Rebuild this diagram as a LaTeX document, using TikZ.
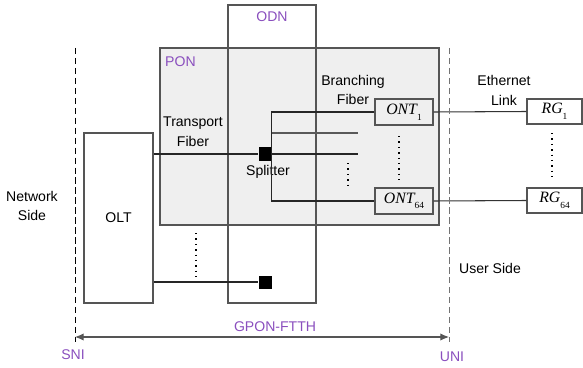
\documentclass[tikz,border=0pt]{standalone}
\usepackage{fontspec}
\setmainfont{Liberation Sans}
\newfontfamily\devfont{Liberation Serif}
\usetikzlibrary{arrows.meta,positioning,calc}
\definecolor{lbl}{HTML}{8A4FBE}
\definecolor{boxgray}{HTML}{555555}
\definecolor{ponfill}{HTML}{EFEFEF}
\newcommand{\dev}[2]{{\devfont\fontsize{13.5}{14}\selectfont\itshape #1}\raisebox{-0.75ex}{\devfont\fontsize{8}{8}\selectfont #2}}

\begin{document}
\begin{tikzpicture}[x=0.03cm,y=-0.03cm,
  every node/.style={font=\fontsize{12}{17}\selectfont,inner sep=0pt},
  bx/.style={draw=boxgray,line width=0.9pt,inner sep=0pt},
  devbox/.style={draw=boxgray,line width=0.9pt,inner sep=0pt,minimum width=1.74cm,minimum height=0.78cm},
  sp/.style={fill=black,minimum size=0.39cm,inner sep=0pt},
  fib/.style={line width=1.2pt,draw=black!85},
  eth/.style={line width=0.9pt,draw=black!80},
  dots/.style={line width=1.3pt,dash pattern=on 1.2pt off 3.4pt},
  bound/.style={line width=0.8pt,dash pattern=on 5.5pt off 3pt},
  ar/.style={{Latex[length=2.6mm,width=2.2mm]}-{Latex[length=2.6mm,width=2.2mm]},line width=0.9pt,draw=boxgray}]
\useasboundingbox (0,0) rectangle (583,368);
\node[bx,fill=ponfill,minimum width=8.37cm,minimum height=5.31cm] (pon) at (299.5,136.5) {};
\node[bx,minimum width=2.64cm,minimum height=8.94cm] (odn) at (272,154) {};
\node[bx,minimum width=2.07cm,minimum height=5.1cm] (olt) at (118.5,218) {OLT};
\node[text=lbl] (odnlbl) at (272,17) {ODN};
\node[text=lbl,anchor=west] (ponlbl) at (165,62) {PON};
\node[align=center] (tfib) at (193,132) {Transport\\Fiber};
\node[align=center] (bfib) at (353,90) {Branching\\Fiber};
\node[align=center] (elink) at (504,90) {Ethernet\\Link};
\node[align=center] (netside) at (32,206) {Network\\Side};
\node (userside) at (490,268) {User Side};
\node[sp] (sp1) at (265,154) {};
\node[sp] (sp2) at (265,282) {};
\node (splbl) at (268,172) {Splitter};
\node[devbox] (ont1) at (404,112) {\dev{ONT}{1}};
\node[devbox] (ont64) at (404,201) {\dev{ONT}{64}};
\node[devbox,minimum width=1.65cm,minimum height=0.75cm] (rg1) at (554.5,111.5) {\dev{RG}{1}};
\node[devbox,minimum width=1.65cm,minimum height=0.75cm] (rg64) at (554.5,200.5) {\dev{RG}{64}};
\coordinate (b2) at (358,133);
\coordinate (b3) at (358,154);
\draw[fib] (olt.east |- sp1) -- (sp1);
\draw[fib] (olt.east |- sp2) -- (sp2);
\draw[fib] (ont1.west) -- (ont1.west -| sp1.east) -- (ont64.west -| sp1.east) -- (ont64.west);
\draw[fib,draw=black!65] (sp1.east |- b2) -- (b2);
\draw[fib] (sp1.east) -- (b3);
\draw[eth] (ont1.east) -- (rg1.west);
\draw[eth] (ont64.east) -- (rg64.west);
\draw[dots] (348,163) -- (348,186);
\draw[dots] (399,136) -- (399,180);
\draw[dots] (552,133) -- (552,177);
\draw[dots] (196,233) -- (196,277);
\coordinate (sni) at (75,337);
\coordinate (uni) at (449,337);
\draw[bound] (75,48) -- (75,342);
\draw[bound,draw=black!55] (449,48) -- (449,342);
\draw[ar] (sni) -- (uni);
\node[text=lbl] (gpon) at (275,327) {GPON-FTTH};
\node[text=lbl] (snilbl) at (73,355) {SNI};
\node[text=lbl] (unilbl) at (452,357) {UNI};
\end{tikzpicture}
\end{document}
